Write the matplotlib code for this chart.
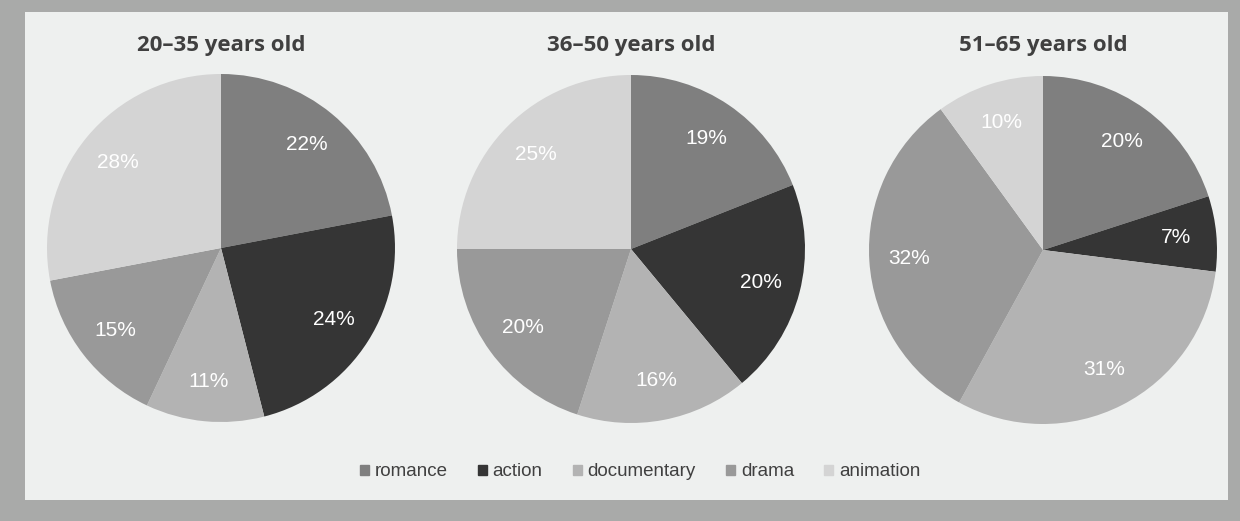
import matplotlib.pyplot as plt
import matplotlib.patches as mpatches

categories = ['romance', 'action', 'documentary', 'drama', 'animation']
titles = ['20\u201335 years old', '36\u201350 years old', '51\u201365 years old']
age_20_35 = [22, 24, 11, 15, 28]
age_36_50 = [19, 20, 16, 20, 25]
age_51_65 = [20, 7, 31, 32, 10]
colors = ['#7f7f7f', '#353535', '#b3b3b3', '#999999', '#d4d4d4']

W, H = 1240, 521
fig = plt.figure(figsize=(W / 100, H / 100), dpi=100)
fig.patch.set_facecolor('#a9aaa9')
# inner light panel
fig.patches.append(mpatches.Rectangle((25 / W, 1 - 500 / H), (1228 - 25) / W, (500 - 12) / H,
                                      transform=fig.transFigure, facecolor='#eef0ef',
                                      edgecolor='none', zorder=-5))

centers = [(221, 248), (631, 249), (1043, 250)]
radius = 174
for (cx, cy), title, vals in zip(centers, titles, [age_20_35, age_36_50, age_51_65]):
    ax = fig.add_axes([(cx - radius) / W, 1 - (cy + radius) / H, 2 * radius / W, 2 * radius / H])
    ax.set_zorder(2)
    wedges, texts, autotexts = ax.pie(vals, colors=colors, startangle=90, counterclock=False,
                                      autopct='%d%%', pctdistance=0.77,
                                      wedgeprops=dict(linewidth=0))
    for t in autotexts:
        t.set_color('white')
        t.set_fontsize(15)
        t.set_family('Liberation Sans')
    ax.set_xlim(-1, 1)
    ax.set_ylim(-1, 1)
    ax.set_aspect('equal')
    ax.axis('off')
    fig.text(cx / W, 1 - 45 / H, title, ha='center', va='center', fontsize=16,
             fontweight='bold', family='Open Sans', color='#404040')

handles = [mpatches.Patch(color=c, label=l) for c, l in zip(colors, categories)]
fig.legend(handles=handles, loc='center', bbox_to_anchor=(640 / W, 1 - 472 / H), ncol=5,
           frameon=False, handlelength=0.5, handleheight=0.5, handletextpad=0.3,
           columnspacing=1.6, prop={'family': 'Liberation Sans', 'size': 13.5},
           labelcolor='#404040')

fig.savefig('out.png', dpi=100, facecolor=fig.get_facecolor())
